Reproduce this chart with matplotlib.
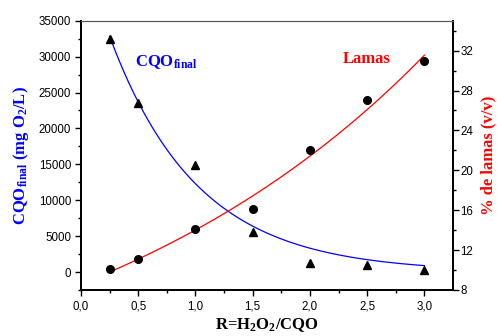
import matplotlib
matplotlib.use("Agg")
import matplotlib.pyplot as plt
import numpy as np

# data
r_ratio = np.array([0.25, 0.5, 1.0, 1.5, 2.0, 2.5, 3.0])
cqo_final = np.array([32400, 23500, 14900, 5580, 1255, 930, 330])
lamas = np.array([10.1, 11.1, 14.1, 16.1, 22.0, 27.0, 31.0])
x_ticks = [0.0, 0.5, 1.0, 1.5, 2.0, 2.5, 3.0]
x_labels = ["0,0", "0,5", "1,0", "1,5", "2,0", "2,5", "3,0"]


def fit_exp(x, y, sign, offset=True):
    # y = y0 + A*exp(sign*x/t), grid search on t, linear lsq for y0, A
    best = None
    for t in np.linspace(0.2, 10, 2000):
        e = np.exp(sign * x / t)
        M = np.column_stack([np.ones_like(x), e]) if offset else e[:, None]
        coef, _, _, _ = np.linalg.lstsq(M, y, rcond=None)
        err = np.sum((M @ coef - y) ** 2)
        if best is None or err < best[0]:
            best = (err, t, coef)
    _, t, coef = best
    if offset:
        return lambda xx: coef[0] + coef[1] * np.exp(sign * xx / t)
    return lambda xx: coef[0] * np.exp(sign * xx / t)


plt.rcParams['font.family'] = ['Liberation Sans', 'DejaVu Sans']
plt.rcParams['mathtext.fontset'] = 'custom'
plt.rcParams['mathtext.rm'] = 'Liberation Serif:bold'
plt.rcParams['mathtext.bf'] = 'Liberation Serif:bold'
plt.rcParams['mathtext.it'] = 'Liberation Serif:bold'

serif = dict(family='Liberation Serif', weight='bold', size=12)

fig = plt.figure(figsize=(4.97, 3.36), dpi=100)
ax = fig.add_axes([81 / 497, 1 - 290 / 336, 372 / 497, 269.3 / 336])
ax2 = ax.twinx()

xs = np.linspace(0.25, 3.0, 200)
ax.plot(xs, fit_exp(r_ratio, cqo_final, -1, offset=False)(xs), color='blue', lw=0.9)
ax.plot(r_ratio, cqo_final, '^', color='black', ms=6)
ax2.plot(xs, fit_exp(r_ratio, lamas, 1)(xs), color='red', lw=0.9)
ax2.plot(r_ratio, lamas, 'o', color='black', ms=5.5)

ax.set_xlim(0, 3.25)
ax.set_ylim(-2500, 35000)
ax2.set_ylim(8, 35)

ax.set_xticks(x_ticks)
ax.set_xticklabels(x_labels)
ax.set_xticks(np.arange(0.25, 3.25, 0.5), minor=True)
ax.set_yticks(np.arange(0, 35001, 5000))
ax.set_yticks(np.arange(-2500, 35000, 5000), minor=True)
ax2.set_yticks(np.arange(8, 33, 4))
ax2.set_yticks(np.arange(10, 36, 4), minor=True)

ax.tick_params(axis='both', which='major', direction='out', length=4, width=1, labelsize=8.3, color='black')
ax.tick_params(axis='y', which='major', pad=3)
ax.tick_params(axis='both', which='minor', direction='out', length=2.5, width=1)
ax2.tick_params(axis='y', which='major', direction='out', length=4, width=1, labelsize=8.3, pad=1.5)
ax2.tick_params(axis='y', which='minor', direction='out', length=2.5, width=1)

for a in (ax, ax2):
    a.spines['top'].set_color('0.35')
    a.spines['top'].set_linewidth(0.8)
    for s in ('left', 'right', 'bottom'):
        a.spines[s].set_linewidth(1.3)

ax.set_xlabel(r'R=H$_2$O$_2$/CQO', fontdict=serif, labelpad=3)
ax.set_ylabel(r'CQO$_{final}$ (mg O$_2$/L)', fontdict=serif, color='blue', labelpad=6)
ax2.set_ylabel(r'% de lamas (v/v)', fontdict=serif, color='red', labelpad=5)

ax.text(0.47, 29300, r'CQO$_{final}$', color='blue', va='center', **serif)
ax.text(2.29, 29600, 'Lamas', color='red', va='center', **serif)

fig.savefig('out.png', dpi=100)
